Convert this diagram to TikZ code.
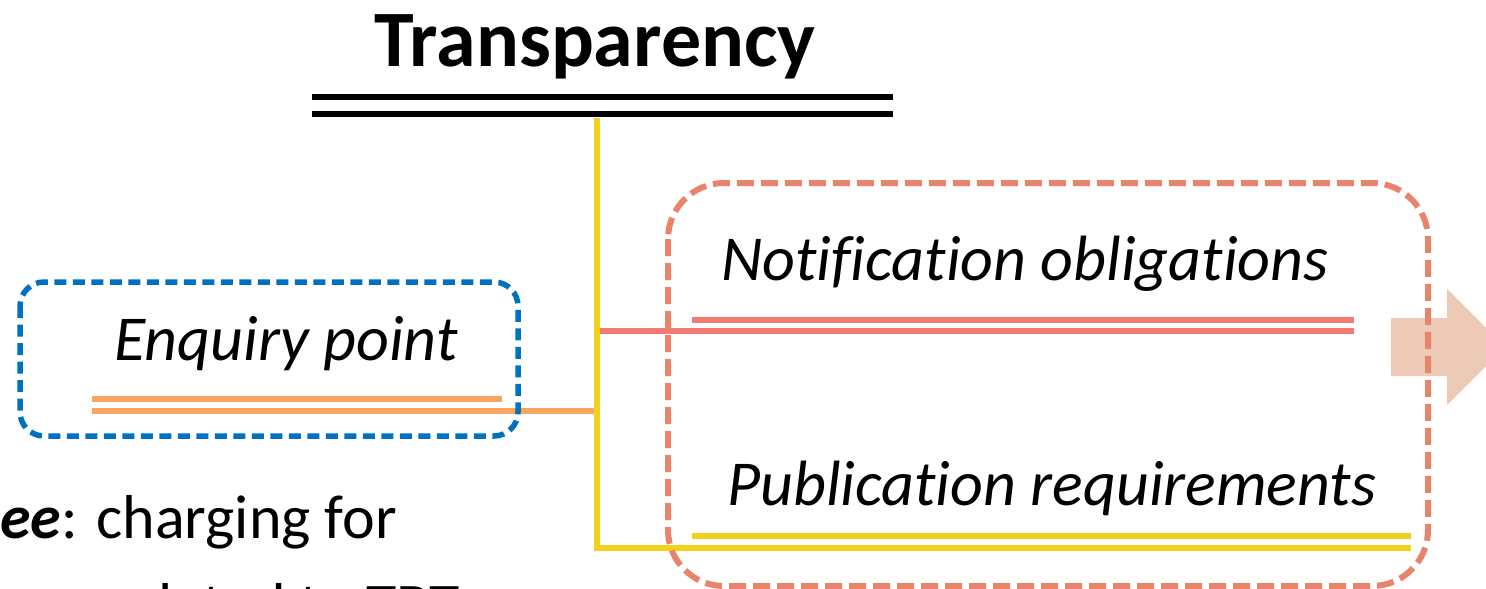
\documentclass[tikz,border=0pt]{standalone}
\usepackage{fontspec}
\setmainfont{Carlito}[Ligatures=NoCommon]

\definecolor{enqblue}{HTML}{0070C0}
\definecolor{enqorange}{HTML}{F6A65E}
\definecolor{notired}{HTML}{F47B72}
\definecolor{boxsalmon}{HTML}{E8836C}
\definecolor{pubyellow}{HTML}{F3D11A}
\definecolor{arrowpeach}{HTML}{EDCAB5}

\tikzset{
  bar/.style={line width=5.5pt},
  hedge/.style={line width=5.5pt, dash pattern=on 12pt off 6.5pt},
  longhedge/.style={line width=6pt, dash pattern=on 17pt off 7pt},
  lbl/.style={inner sep=0pt, anchor=base west, font=\itshape\fontsize{64}{76}\selectfont},
  body/.style={inner sep=0pt, anchor=base west, font=\fontsize{62}{74}\selectfont}
}

\begin{document}
\begin{tikzpicture}[x=1pt,y=-1pt]
    \clip (0,0) rectangle (1486,589);

    % big arrow on the right
    \fill[arrowpeach] (1391,318) -- (1447,318) -- (1447,289) -- (1505,347)
        -- (1447,405) -- (1447,376) -- (1391,376) -- cycle;

    % title with its double rule
    \node[inner sep=0pt, anchor=base, font=\bfseries\fontsize{80}{96}\selectfont] (title) at (595,66) {Transparency};
    \coordinate (ruleL) at (312,97);
    \coordinate (ruleR) at (893,97);
    \draw[bar] (ruleL) -- (ruleR);
    \draw[bar] ([yshift=-17pt]ruleL) -- ([yshift=-17pt]ruleR);

    % labels
    \node[lbl] (enq) at (114,360) {Enquiry point};
    \node[lbl] (noti) at (721,280) {Notification obligations};
    \node[lbl] (pub) at (727,505) {Publication requirements};
    \node[body] (fee) at (0,538) {\textbf{\textit{ee}}: charging for};
    \node[body] (tbt) at (107,626) {related to TBT};

    % trunk and branches
    \coordinate (trunk) at (597,118);
    \coordinate (enqjoin) at (597,411);
    \coordinate (notijoin) at (600,331);
    \coordinate (pubjoin) at (597,548);

    \draw[bar, enqorange] (92,399) -- (502,399);
    \draw[bar, enqorange] (enqjoin) -- (92,411);

    \draw[bar, notired] (692,320) -- (1354,320);
    \draw[bar, notired] (notijoin) -- (1354,331);

    \draw[bar, pubyellow] (692,536) -- (1411,536);
    \draw[bar, pubyellow] (trunk) -- (pubjoin) -- (1411,548);

    % dashed frames
    \draw[hedge, enqblue, rounded corners=24pt] (20,282) rectangle (518,436);
    \draw[longhedge, boxsalmon, rounded corners=56pt] (668,183) rectangle (1428,586);
\end{tikzpicture}
\end{document}
